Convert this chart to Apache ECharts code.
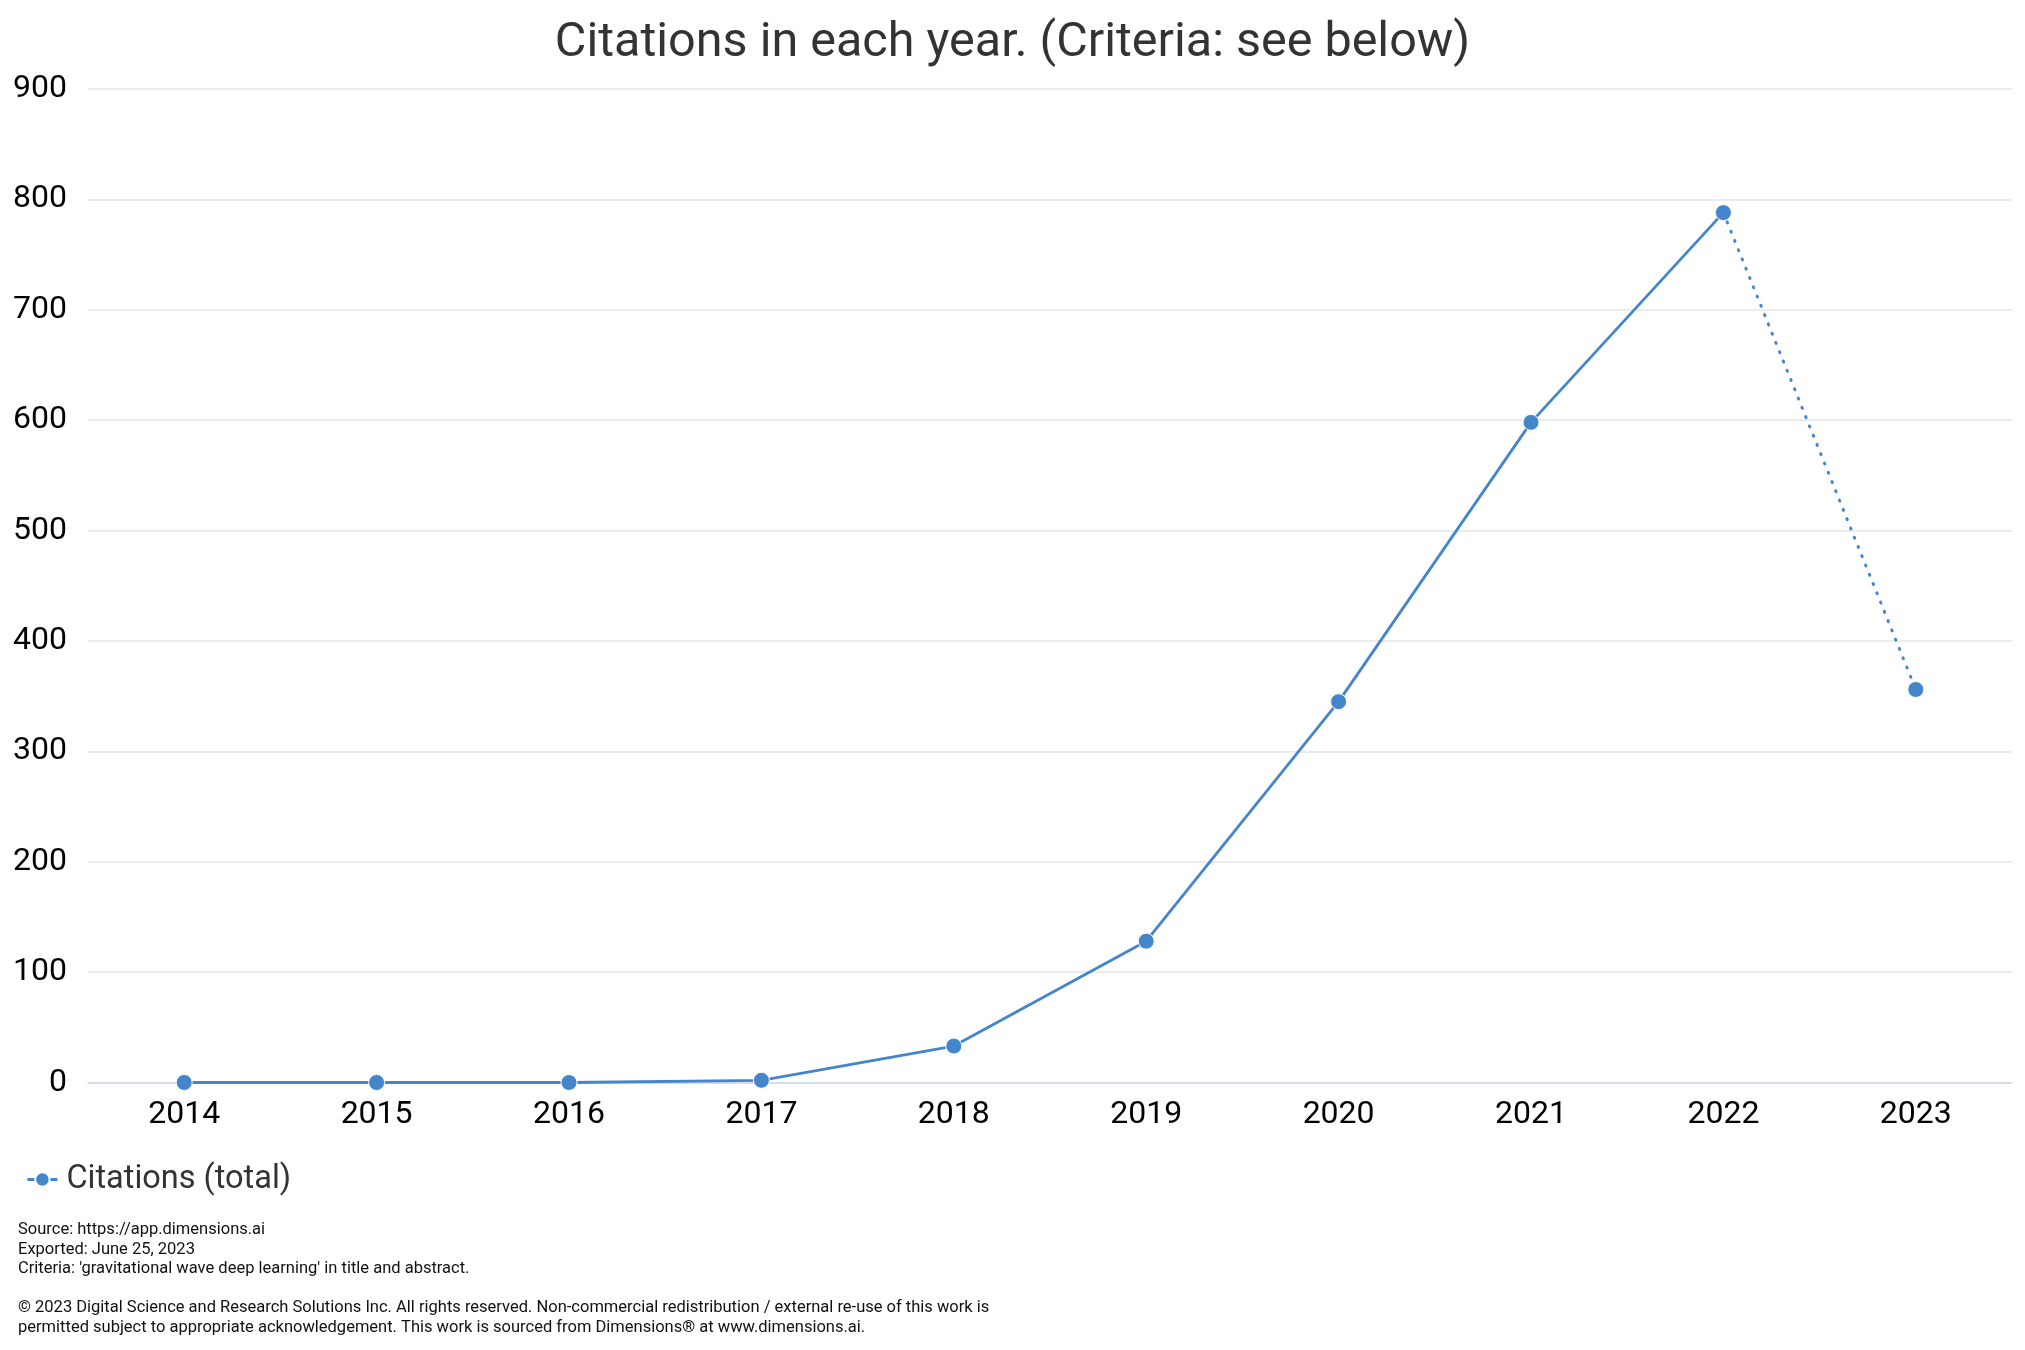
<!DOCTYPE html>
<html>
<head>
<meta charset="utf-8">
<script src="https://cdn.jsdelivr.net/npm/echarts@6/dist/echarts.min.js"></script>
<style>
html,body{margin:0;padding:0;background:#fff;}
#chart{width:2025px;height:1350px;}
</style>
</head>
<body>
<div id="chart"></div>
<script>
const years = ['2014','2015','2016','2017','2018','2019','2020','2021','2022','2023'];
const citations = [0, 0, 0, 2, 33, 128, 345, 598, 788, 356];
const yTicks = { min: 0, max: 900, interval: 100 };
const seriesName = 'Citations (total)';
const titleText = 'Citations in each year. (Criteria: see below)';
const footerLines = [
  'Source: https://app.dimensions.ai',
  'Exported: June 25, 2023',
  "Criteria: 'gravitational wave deep learning' in title and abstract.",
  '',
  '© 2023 Digital Science and Research Solutions Inc. All rights reserved. Non-commercial redistribution / external re-use of this work is',
  'permitted subject to appropriate acknowledgement. This work is sourced from Dimensions® at www.dimensions.ai.'
];

const lastIdx = citations.length - 1;
const solidData = citations.map((v, i) => i < lastIdx ? v : null);
const dottedData = citations.map((v, i) => i >= lastIdx - 1 ? v : null);

const color = '#4386cb';
const chart = echarts.init(document.getElementById('chart'), null, { renderer: 'canvas' });
chart.setOption({
  animation: false,
  backgroundColor: '#ffffff',
  textStyle: { fontFamily: 'Roboto' },
  title: {
    text: titleText,
    left: 'center',
    top: 14,
    textStyle: { fontSize: 48.5, fontWeight: 'normal', color: '#333333', fontFamily: 'Roboto' }
  },
  legend: {
    left: 21,
    top: 1158,
    itemWidth: 30,
    itemHeight: 18,
    data: [seriesName],
    lineStyle: { type: [8, 14], width: 2.8 },
    textStyle: { fontSize: 32.5, color: '#333333', fontFamily: 'Roboto', padding: [0, 0, 0, 4] }
  },
  grid: { left: 88, right: 13, top: 89, bottom: 267.5, containLabel: false },
  xAxis: {
    type: 'category',
    data: years,
    boundaryGap: true,
    axisLine: { show: true, lineStyle: { color: '#ccd6eb', width: 1.5 } },
    axisTick: { show: false },
    axisLabel: { fontSize: 32, color: '#000000', margin: 16, fontFamily: 'Roboto' },
    splitLine: { show: false }
  },
  yAxis: {
    type: 'value',
    min: yTicks.min,
    max: yTicks.max,
    interval: yTicks.interval,
    axisLine: { show: false },
    axisTick: { show: false },
    axisLabel: { fontSize: 32, color: '#000000', margin: 21, fontFamily: 'Roboto' },
    splitLine: { lineStyle: { color: '#e6e6e6', width: 1.5 } }
  },
  graphic: [{
    type: 'text',
    left: 18,
    top: 1220,
    style: {
      text: footerLines.join('\n'),
      font: '16.5px Roboto',
      fill: '#111111',
      lineHeight: 19.6
    }
  }],
  series: [
    {
      name: seriesName,
      type: 'line',
      data: solidData,
      connectNulls: false,
      symbol: 'circle',
      symbolSize: 16,
      lineStyle: { color: color, width: 2.8 },
      itemStyle: { color: color, borderColor: '#ffffff', borderWidth: 1 },
      z: 3
    },
    {
      name: seriesName,
      type: 'line',
      data: dottedData,
      symbol: 'circle',
      symbolSize: 16,
      lineStyle: { color: color, width: 3, type: [1, 9], cap: 'round' },
      itemStyle: { color: color, borderColor: '#ffffff', borderWidth: 1 },
      z: 2
    }
  ]
});
</script>
</body>
</html>
